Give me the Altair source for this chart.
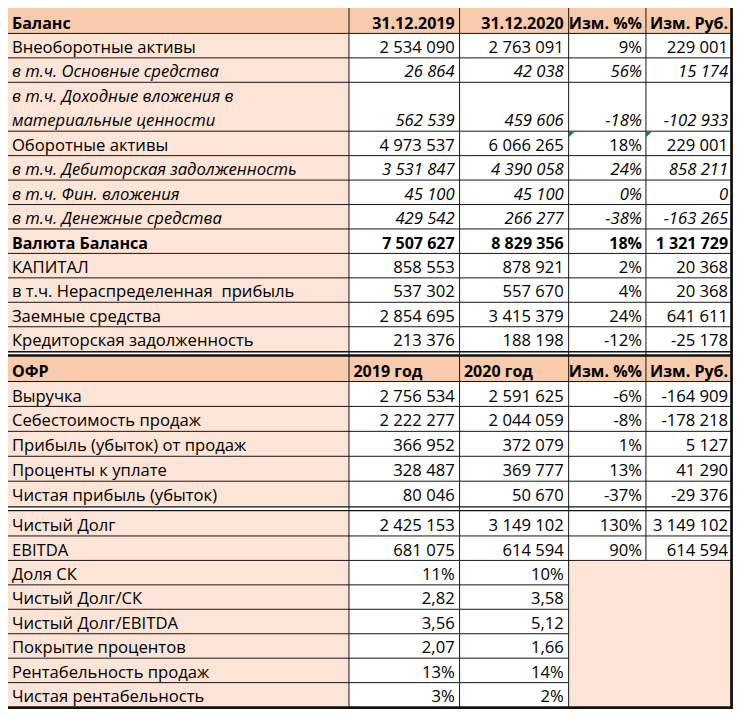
import altair as alt
import pandas as pd

# ---------------- data ----------------
bal_header = ["Баланс", "31.12.2019", "31.12.2020", "Изм. %%", "Изм. Руб."]
bal_labels = [
    "Внеоборотные активы",
    " в т.ч. Основные средства",
    " в т.ч. Доходные вложения в\nматериальные ценности",
    "Оборотные активы",
    "в т.ч. Дебиторская задолженность",
    " в т.ч. Фин. вложения",
    " в т.ч. Денежные средства",
    "Валюта Баланса",
    "КАПИТАЛ",
    "в т.ч. Нераспределенная  прибыль",
    "Заемные средства",
    "Кредиторская задолженность",
]
bal_2019 = [2534090, 26864, 562539, 4973537, 3531847, 45100, 429542, 7507627, 858553, 537302, 2854695, 213376]
bal_2020 = [2763091, 42038, 459606, 6066265, 4390058, 45100, 266277, 8829356, 878921, 557670, 3415379, 188198]
bal_pct = [9, 56, -18, 18, 24, 0, -38, 18, 2, 4, 24, -12]
bal_rub = [229001, 15174, -102933, 229001, 858211, 0, -163265, 1321729, 20368, 20368, 641611, -25178]
bal_style = ["normal", "italic", "italic", "normal", "italic", "italic", "italic", "bold",
             "normal", "normal", "normal", "normal"]

ofr_header = ["ОФР", "2019 год", "2020 год", "Изм. %%", "Изм. Руб."]
ofr_labels = ["Выручка", "Себестоимость продаж", "Прибыль (убыток) от продаж",
              "Проценты к уплате", "Чистая прибыль (убыток)"]
ofr_2019 = [2756534, 2222277, 366952, 328487, 80046]
ofr_2020 = [2591625, 2044059, 372079, 369777, 50670]
ofr_pct = [-6, -8, 1, 13, -37]
ofr_rub = [-164909, -178218, 5127, 41290, -29376]

debt_labels = ["Чистый Долг", "EBITDA"]
debt_2019 = [2425153, 681075]
debt_2020 = [3149102, 614594]
debt_pct = [130, 90]
debt_rub = [3149102, 614594]

ratio_labels = ["Доля СК", "Чистый Долг/СК", "Чистый Долг/EBITDA", "Покрытие процентов",
                "Рентабельность продаж", "Чистая рентабельность"]
ratio_2019 = [11, 2.82, 3.56, 2.07, 13, 3]
ratio_2020 = [10, 3.58, 5.12, 1.66, 14, 2]
ratio_kind = ["%", "x", "x", "x", "%", "%"]

# cells carrying Excel's green error marker: (balance row index, column)
flagged_cells = [(3, 3), (3, 4)]

# ---------------- layout ----------------
W, H = 726, 702
REF_W, REF_H = 742, 718
S = W / REF_W
col_edges = [0, 348.5, 461.5, 573, 652, 739]
right_pad = [0, 5, 5, 4, 3]
FONT = "Open Sans"
FS = 17 * S
FS_BOLD = 16.4 * S
HEADER_BG = "#F8CBAD"
LABEL_BG = "#FCE4D6"
LINE = "#111111"


def fmt_int(v):
    s = f"{abs(v):,}".replace(",", "\u00a0")
    return ("-" if v < 0 else "") + s


def fmt_ratio(v, kind):
    if kind == "%":
        return f"{v}%"
    return f"{v:.2f}".replace(".", ",")


def nb(s):
    return s.replace(" ", "\u00a0")


rows = []
y = 0.0
rows.append(dict(top=y, bottom=y + 26, cells=bal_header, style="bold",
                 aligns=["left", "right", "right", "right", "right"], kind="header"))
y += 26
for i, lab in enumerate(bal_labels):
    n = lab.count("\n") + 1
    rows.append(dict(top=y, bottom=y + 25 * n,
                     cells=[lab, fmt_int(bal_2019[i]), fmt_int(bal_2020[i]), f"{bal_pct[i]}%", fmt_int(bal_rub[i])],
                     style=bal_style[i], aligns=["left"] + ["right"] * 4, kind="data", bidx=i))
    y += 25 * n
sec1_end = y
y += 5
rows.append(dict(top=y, bottom=y + 26, cells=ofr_header, style="bold",
                 aligns=["left", "left", "left", "right", "right"], kind="header"))
y += 26
for i, lab in enumerate(ofr_labels):
    rows.append(dict(top=y, bottom=y + 25.5,
                     cells=[lab, fmt_int(ofr_2019[i]), fmt_int(ofr_2020[i]), f"{ofr_pct[i]}%", fmt_int(ofr_rub[i])],
                     style="normal", aligns=["left"] + ["right"] * 4, kind="data"))
    y += 25.5
sec2_end = y
y += 5.5
for i, lab in enumerate(debt_labels):
    rows.append(dict(top=y, bottom=y + 25,
                     cells=[lab, fmt_int(debt_2019[i]), fmt_int(debt_2020[i]), f"{debt_pct[i]}%", fmt_int(debt_rub[i])],
                     style="normal", aligns=["left"] + ["right"] * 4, kind="data"))
    y += 25
block_top = y
for i, lab in enumerate(ratio_labels):
    rows.append(dict(top=y, bottom=y + 25,
                     cells=[lab, fmt_ratio(ratio_2019[i], ratio_kind[i]), fmt_ratio(ratio_2020[i], ratio_kind[i]), "", ""],
                     style="normal", aligns=["left"] + ["right"] * 4, kind="ratio"))
    y += 25
table_end = y

# ---------- cell backgrounds ----------
rects = []
for r in rows:
    for c in range(5):
        if r["kind"] == "ratio" and c >= 3:
            continue
        if r["kind"] == "header":
            fill = HEADER_BG
        elif c == 0:
            fill = LABEL_BG
        else:
            fill = "#FFFFFF"
        rects.append(dict(x=col_edges[c], x2=col_edges[c + 1], y=r["top"], y2=r["bottom"], fill=fill))
rects.append(dict(x=col_edges[3], x2=col_edges[5], y=block_top, y2=table_end, fill=LABEL_BG))
rect_df = pd.DataFrame(rects)

# ---------- grid lines ----------
lines = []
for r in rows:
    if r["bottom"] in (sec1_end, sec2_end, table_end):
        continue
    x_end = col_edges[3] if r["kind"] == "ratio" else col_edges[5]
    lines.append(dict(x=0, x2=x_end, y=r["bottom"], y2=r["bottom"], w=1.0))
lines.append(dict(x=0, x2=col_edges[5], y=sec1_end + 0.5, y2=sec1_end + 0.5, w=1.5))
lines.append(dict(x=0, x2=col_edges[5], y=sec1_end + 4.5, y2=sec1_end + 4.5, w=2.5))
lines.append(dict(x=0, x2=col_edges[5], y=sec2_end + 0.8, y2=sec2_end + 0.8, w=1.3))
lines.append(dict(x=0, x2=col_edges[5], y=sec2_end + 4.6, y2=sec2_end + 4.6, w=1.3))
for c in (1, 2, 3):
    lines.append(dict(x=col_edges[c], x2=col_edges[c], y=0, y2=table_end, w=1.0))
lines.append(dict(x=col_edges[4], x2=col_edges[4], y=0, y2=block_top, w=1.0))
lines.append(dict(x=col_edges[5] + 0.5, x2=col_edges[5] + 0.5, y=0, y2=table_end + 2, w=2.8))
lines.append(dict(x=0, x2=col_edges[5] + 2, y=table_end + 0.5, y2=table_end + 0.5, w=2.8))
line_df = pd.DataFrame(lines)
line_df["w"] = line_df["w"] * S

# ---------- texts ----------
texts = []
for r in rows:
    for c in range(5):
        t = r["cells"][c]
        if t == "":
            continue
        n = t.count("\n") + 1
        al = r["aligns"][c]
        if al == "left":
            x = col_edges[c] + (4 if c == 0 else 4.5)
        else:
            x = col_edges[c + 1] - right_pad[c]
        texts.append(dict(x=x, y=r["bottom"] - 5 - 25 * (n - 1), text=nb(t),
                          align=al, style=r["style"]))
text_df = pd.DataFrame(texts)

# ---------- markers ----------
bal_rows = {r["bidx"]: r for r in rows if "bidx" in r}
marks = [dict(x=col_edges[c] + 3.2, y=bal_rows[i]["top"] + 3.2) for i, c in flagged_cells]
mark_df = pd.DataFrame(marks)

xs = alt.Scale(domain=[0, REF_W], range=[0, W], nice=False, zero=False)
ys = alt.Scale(domain=[0, REF_H], range=[0, H], nice=False, zero=False)

bg = alt.Chart(rect_df).mark_rect(stroke=None).encode(
    x=alt.X("x:Q", scale=xs, axis=None), x2="x2:Q",
    y=alt.Y("y:Q", scale=ys, axis=None), y2="y2:Q",
    color=alt.Color("fill:N", scale=None),
)

grid = alt.Chart(line_df).mark_rule(color=LINE).encode(
    x=alt.X("x:Q", scale=xs, axis=None), x2="x2:Q",
    y=alt.Y("y:Q", scale=ys, axis=None), y2="y2:Q",
    size=alt.Size("w:Q", scale=None),
)

layers = [bg, grid]
for al in ("left", "right"):
    for st in ("normal", "italic", "bold"):
        sub = text_df[(text_df["align"] == al) & (text_df["style"] == st)]
        if sub.empty:
            continue
        kw = dict(align=al, baseline="alphabetic", font=FONT, fontSize=FS, color="#000000",
                  lineBreak="\n", lineHeight=25 * S)
        if st == "italic":
            kw["fontStyle"] = "italic"
        if st == "bold":
            kw["fontWeight"] = "bold"
            kw["fontSize"] = FS_BOLD
        layers.append(alt.Chart(sub).mark_text(**kw).encode(
            x=alt.X("x:Q", scale=xs, axis=None),
            y=alt.Y("y:Q", scale=ys, axis=None),
            text="text:N",
        ))

tri = alt.Chart(mark_df).mark_point(shape="M-1,-1L1,-1L-1,1Z", filled=True, opacity=1,
                                    color="#1E7B3C", size=36 * S * S, strokeWidth=0).encode(
    x=alt.X("x:Q", scale=xs, axis=None),
    y=alt.Y("y:Q", scale=ys, axis=None),
)
layers.append(tri)

chart = alt.layer(*layers).properties(
    width=W, height=H,
    autosize=alt.AutoSizeParams(type="none"),
    padding=0,
    background="#FFFFFF",
).configure_view(stroke=None)

chart.save("out.html", embed_options={"renderer": "svg", "actions": False})
